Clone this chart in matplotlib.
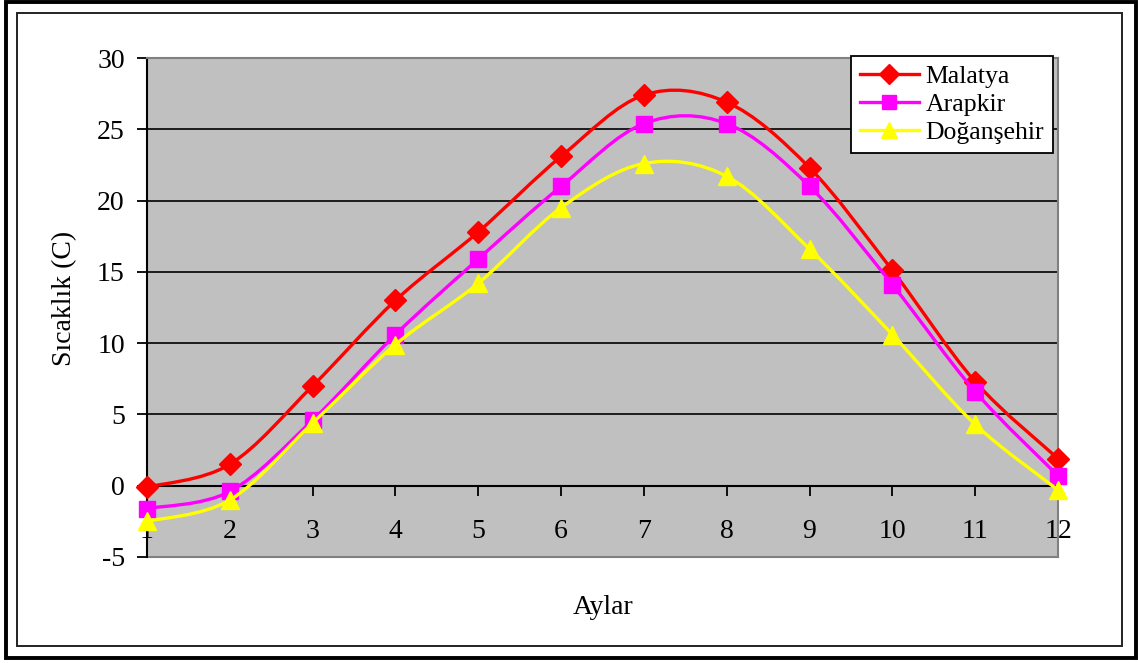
import numpy as np
import matplotlib
matplotlib.use("Agg")
from matplotlib import pyplot as plt
from matplotlib.path import Path
from matplotlib.patches import PathPatch, Rectangle
from matplotlib.lines import Line2D

# Aylik ortalama sicakliklar (C)
aylar = [1, 2, 3, 4, 5, 6, 7, 8, 9, 10, 11, 12]
malatya = [-0.1, 1.5, 7.0, 13.0, 17.8, 23.1, 27.4, 26.9, 22.3, 15.1, 7.3, 1.9]
arapkir = [-1.6, -0.4, 4.6, 10.6, 15.9, 21.0, 25.4, 25.4, 21.0, 14.1, 6.6, 0.7]
dogansehir = [-2.5, -1.0, 4.4, 9.9, 14.2, 19.5, 22.6, 21.7, 16.6, 10.6, 4.3, -0.3]
istasyonlar = ["Malatya", "Arapkir", "Doğanşehir"]
yticks = [-5, 0, 5, 10, 15, 20, 25, 30]

plt.rcParams["font.family"] = ["Liberation Serif", "DejaVu Serif"]
plt.rcParams["axes.unicode_minus"] = False

W, H = 1138, 663


def px(x0, y0, w, h):
    # piksel (sol-ust) -> figur orani
    return [x0 / W, 1 - (y0 + h) / H, w / W, h / H]


def smooth_path(x, y):
    # Excel tarzi yumusak cizgi (kubik Bezier)
    p = np.column_stack([x, y]).astype(float)
    n = len(p)
    verts = [p[0]]
    codes = [Path.MOVETO]
    for i in range(n - 1):
        p0 = p[i - 1] if i > 0 else p[i]
        p1 = p[i]
        p2 = p[i + 1]
        p3 = p[i + 2] if i + 2 < n else p[i + 1]
        c1 = p1 + (p2 - p0) / 6.0
        c2 = p2 - (p3 - p1) / 6.0
        verts += [c1, c2, p2]
        codes += [Path.CURVE4] * 3
    return Path(verts, codes)


fig = plt.figure(figsize=(W / 100, H / 100), dpi=100)

# cift cerceve
fig.patches.append(Rectangle((6 / W, 5 / H), 1129.5 / W, 656.5 / H,
                             transform=fig.transFigure, fill=False,
                             edgecolor="black", linewidth=2.8))
fig.patches.append(Rectangle((16.5 / W, 17 / H), 1105.5 / W, 633.5 / H,
                             transform=fig.transFigure, fill=False,
                             edgecolor="#222222", linewidth=1.4))

ax = fig.add_axes(px(147, 58, 911, 499))
ax.set_facecolor("#C0C0C0")
ax.set_xlim(1, 12)
ax.set_ylim(-5, 30)

for v in yticks[2:-1]:
    ax.axhline(v, color="black", linewidth=1.2, zorder=1)
ax.axhline(-5, color="#808080", linewidth=1.5, zorder=1, clip_on=False)

ax.spines["bottom"].set_position(("data", 0))
ax.spines["bottom"].set_linewidth(1.5)
ax.spines["left"].set_linewidth(1.5)
ax.spines["top"].set_color("#808080")
ax.spines["right"].set_color("#808080")
ax.spines["top"].set_linewidth(1.5)
ax.spines["right"].set_linewidth(1.5)

ax.set_xticks(aylar)
ax.set_xticklabels([str(a) for a in aylar])
ax.set_yticks(yticks)
ax.tick_params(axis="x", direction="out", length=7, width=1.3, pad=17,
               labelsize=20)
ax.tick_params(axis="y", direction="out", length=7, width=1.3, pad=9,
               labelsize=20)

renkler = ["#FF0000", "#FF00FF", "#FFFF00"]
isaretler = ["D", "s", "^"]
boyut = [11, 11, 13]
seriler = [malatya, arapkir, dogansehir]

handles = []
for i, (seri, renk, mk) in enumerate(zip(seriler, renkler, isaretler)):
    patch = PathPatch(smooth_path(aylar, seri), facecolor="none",
                      edgecolor=renk, linewidth=2.4, transform=ax.transData,
                      zorder=3 + i, clip_on=False)
    ax.add_patch(patch)
    ax.plot(aylar, seri, linestyle="none", marker=mk, markersize=boyut[i],
            color=renk, markeredgecolor=renk, zorder=3 + i, clip_on=False)
    handles.append(Line2D([], [], color=renk, linewidth=2.4, marker=mk,
                          markersize=boyut[i] - 1, markeredgecolor=renk))

leg = ax.legend(handles, istasyonlar, loc="upper right",
                bbox_to_anchor=((1053 - 147) / 911, (557 - 56) / 499),
                borderaxespad=0, fancybox=False, framealpha=1,
                edgecolor="black", fontsize=18.5, handlelength=2.3,
                handletextpad=0.25, labelspacing=0.2, borderpad=0.35)
leg.get_frame().set_linewidth(1.3)
leg.set_zorder(10)

fig.text(65 / W, 1 - 298 / H, "Sıcaklık (C)", rotation=90, fontsize=20,
         ha="center", va="center")
fig.text(603 / W, 1 - 608 / H, "Aylar", fontsize=20, ha="center",
         va="center")

fig.savefig("out.png", dpi=100)
